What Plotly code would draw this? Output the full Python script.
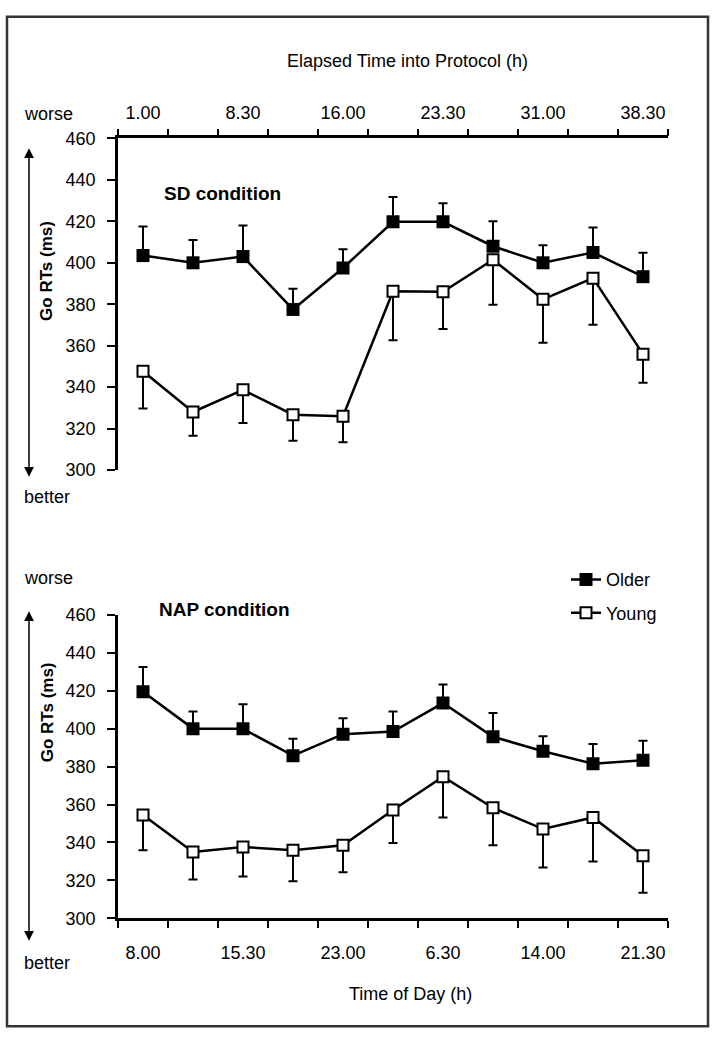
import plotly.graph_objects as go

# sessions 1..11, labelled every second one
sessions = list(range(1, 12))
elapsed_labels = ["1.00", "8.30", "16.00", "23.30", "31.00", "38.30"]
clock_labels = ["8.00", "15.30", "23.00", "6.30", "14.00", "21.30"]
label_sessions = [1, 3, 5, 7, 9, 11]

# SD condition (Go RTs, ms)
sd_older = [403.5, 400, 403, 377.5, 397.5, 419.8, 419.8, 408, 400, 405, 393.3]
sd_older_se = [14, 11, 15, 10, 9, 12, 9, 12, 8.5, 12, 11.5]
sd_young = [347.7, 328, 338.7, 326.7, 326, 386.3, 386, 401.5, 382.4, 392.6, 355.9]
sd_young_se = [18, 11.5, 16, 12.6, 12.6, 23.7, 18, 21.8, 21, 22.5, 13.8]

# NAP condition (Go RTs, ms)
nap_older = [419.6, 400.1, 400, 385.8, 397.2, 398.6, 413.6, 395.8, 388.2, 381.6, 383.4]
nap_older_se = [13, 9, 13, 9, 8.4, 10.5, 9.8, 12.6, 7.9, 10.4, 10.3]
nap_young = [354.5, 335, 337.6, 335.9, 338.5, 357.1, 374.7, 358.3, 347.1, 353.2, 333]
nap_young_se = [18.6, 14.6, 15.5, 16.4, 14.2, 17.4, 21.5, 19.8, 20.3, 23.3, 19.5]

W, H = 715, 1043
FONT = "Liberation Sans, Arial, sans-serif"


def px_x(p):
    return p / W


def px_y(p):
    return 1 - p / H


fig = go.Figure()


def add_pair(xa, ya, older, older_se, young, young_se, show):
    zeros = [0] * len(sessions)
    fig.add_trace(go.Scatter(
        x=sessions, y=older, name="Older", xaxis=xa, yaxis=ya,
        mode="lines+markers", legendgroup="older", showlegend=show,
        line=dict(color="black", width=2.5),
        marker=dict(symbol="square", size=13, color="black"),
        error_y=dict(type="data", symmetric=False, array=older_se, arrayminus=zeros,
                     color="black", thickness=2, width=4.5),
    ))
    fig.add_trace(go.Scatter(
        x=sessions, y=young, name="Young", xaxis=xa, yaxis=ya,
        mode="lines+markers", legendgroup="young", showlegend=show,
        line=dict(color="black", width=2.5),
        marker=dict(symbol="square", size=11, color="white",
                    line=dict(color="black", width=2)),
        error_y=dict(type="data", symmetric=False, array=zeros, arrayminus=young_se,
                     color="black", thickness=2, width=4.5),
    ))


add_pair("x", "y", sd_older, sd_older_se, sd_young, sd_young_se, False)
add_pair("x2", "y2", nap_older, nap_older_se, nap_young, nap_young_se, True)

xdom = [px_x(118), px_x(668)]
xcommon = dict(
    domain=xdom, range=[0.5, 11.5], showline=True, linecolor="black", linewidth=2.5,
    showgrid=False, zeroline=False, tickmode="array", tickvals=label_sessions, ticks="",
    tickfont=dict(family=FONT, size=18, color="black"),
    minor=dict(tickmode="array", tickvals=[s - 0.5 for s in sessions] + [11.5],
               ticks="outside", ticklen=7, tickwidth=2, tickcolor="black"),
)
ycommon = dict(
    range=[300, 460], dtick=20, showline=True, linecolor="black", linewidth=2.5,
    showgrid=False, zeroline=False, ticks="outside", ticklen=8, tickwidth=2,
    tickcolor="black", tickfont=dict(family=FONT, size=18, color="black"),
    ticklabelstandoff=8,
)

fig.update_layout(
    width=W, height=H, margin=dict(l=0, r=0, t=0, b=0),
    plot_bgcolor="white", paper_bgcolor="white",
    xaxis=dict(xcommon, side="top", anchor="y", ticktext=elapsed_labels, ticklabelstandoff=10),
    yaxis=dict(ycommon, domain=[px_y(469), px_y(131)], anchor="x"),
    xaxis2=dict(xcommon, side="bottom", anchor="y2", ticktext=clock_labels, ticklabelstandoff=16),
    yaxis2=dict(ycommon, domain=[px_y(926), px_y(617)], anchor="x2"),
    legend=dict(x=px_x(566), y=px_y(562), xanchor="left", yanchor="top",
                font=dict(family=FONT, size=18, color="black"),
                bgcolor="rgba(0,0,0,0)", tracegroupgap=7),
    showlegend=True,
)

# outer frame
fig.add_shape(type="rect", xref="paper", yref="paper",
              x0=px_x(7), x1=px_x(708), y0=px_y(1036), y1=px_y(7),
              line=dict(color="#333333", width=2.5))

text_font = dict(family=FONT, size=18, color="black")
bold_font = dict(family=FONT, size=19, color="black", weight="bold")

notes = [
    ("Elapsed Time into Protocol (h)", 408, 52, "center", text_font),
    ("Time of Day (h)", 410, 1003, "center", text_font),
    ("worse", 48, 106, "center", text_font),
    ("better", 47, 497, "center", text_font),
    ("worse", 48, 579, "center", text_font),
    ("better", 47, 972, "center", text_font),
    ("SD condition", 162, 187, "left", bold_font),
    ("NAP condition", 157, 611, "left", bold_font),
]
for txt, x, y, anchor, f in notes:
    fig.add_annotation(text=txt, xref="paper", yref="paper", x=px_x(x), y=px_y(y),
                       xanchor=anchor, yanchor="middle", showarrow=False, font=f)

# y titles
for y in (266, 716):
    fig.add_annotation(text="<b>Go RTs (ms)</b>", xref="paper", yref="paper",
                       x=px_x(47), y=px_y(y), xanchor="center", yanchor="middle",
                       textangle=-90, showarrow=False,
                       font=dict(family=FONT, size=17, color="black"))

# worse/better arrows
for top, bottom in ((141, 471), (613, 944)):
    fig.add_annotation(text="", xref="paper", yref="paper", x=px_x(29), y=px_y(top),
                       axref="pixel", ayref="pixel", ax=0, ay=bottom - top,
                       showarrow=True, arrowhead=2, arrowside="end+start",
                       arrowsize=1.3, arrowwidth=1.5, arrowcolor="black")

# page body has a default 8px margin; drop it so the figure sits at 0,0
fig.write_html("out.html", config={"displayModeBar": False},
               post_script="document.body.style.margin='0';")
